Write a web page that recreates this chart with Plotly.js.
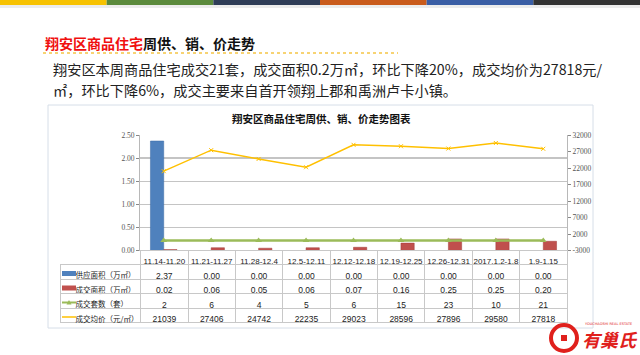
<!DOCTYPE html>
<html>
<head>
<meta charset="utf-8">
<script src="https://cdn.plot.ly/plotly-3.0.1.min.js"></script>
<style>
html,body{margin:0;padding:0;background:#fff;}
#chart{width:640px;height:355px;}
</style>
</head>
<body>
<div id="chart"></div>
<script>
// ---- data ----
const categories = ['11.14-11.20','11.21-11.27','11.28-12.4','12.5-12.11','12.12-12.18','12.19-12.25','12.26-12.31','2017.1.2-1.8','1.9-1.15'];
const supplyArea = [2.37, 0.00, 0.00, 0.00, 0.00, 0.00, 0.00, 0.00, 0.00];
const dealArea   = [0.02, 0.06, 0.05, 0.06, 0.07, 0.16, 0.25, 0.25, 0.20];
const dealCount  = [2, 6, 4, 5, 6, 15, 23, 10, 21];
const avgPrice   = [21039, 27406, 24742, 22235, 29023, 28596, 27896, 29580, 27818];
const seriesNames = ['供应面积（万㎡）','成交面积（万㎡）','成交套数（套）','成交均价（元/㎡）'];
const leftTicks = [0, 0.5, 1, 1.5, 2, 2.5];
const rightTicks = [-3000, 2000, 7000, 12000, 17000, 22000, 27000, 32000];

const W = 640, H = 355;
const px = x => x / W;
const py = y => 1 - y / H;

const cBlue = '#4f81bd', cRed = '#c0504d', cGreen = '#9bbb59', cYellow = '#ffc000';
const numFont = 'Liberation Sans, Arial, sans-serif';
const cjkFont = 'Noto Sans CJK SC, sans-serif';

const traces = [
  {type:'bar', x:categories, y:supplyArea, name:seriesNames[0], marker:{color:cBlue, line:{color:'#3a6aa5', width:0.5}}, xaxis:'x', yaxis:'y'},
  {type:'bar', x:categories, y:dealArea, name:seriesNames[1], marker:{color:cRed, line:{color:'#a03c3a', width:0.5}}, xaxis:'x', yaxis:'y'},
  {type:'scatter', mode:'lines+markers', x:categories, y:dealCount, name:seriesNames[2], line:{color:cGreen, width:2.5}, marker:{symbol:'triangle-up', size:6, color:cGreen}, xaxis:'x', yaxis:'y2'},
  {type:'scatter', mode:'lines+markers', x:categories, y:avgPrice, name:seriesNames[3], line:{color:cYellow, width:1.5}, marker:{symbol:'x-thin', size:4, color:cYellow, line:{color:cYellow, width:1}}, xaxis:'x', yaxis:'y2'},
  {
    type:'table',
    domain:{x:[px(60), px(567)], y:[py(328), py(250)]},
    columnwidth:[80].concat(categories.map(()=>47)),
    header:{
      values:[''].concat(categories),
      height:14.5,
      align:'center',
      fill:{color:'rgba(0,0,0,0)'},
      line:{color:['rgba(0,0,0,0)'].concat(categories.map(()=>'#c8c8c8')), width:1},
      font:{family:numFont, size:8, color:'#222'}
    },
    cells:{
      values:[seriesNames.map(s=>'\u2003'+s)].concat(categories.map((c,i)=>[supplyArea[i].toFixed(2), dealArea[i].toFixed(2), String(dealCount[i]), String(avgPrice[i])])),
      height:14.5,
      align:['left'].concat(categories.map(()=>'center')),
      fill:{color:'rgba(0,0,0,0)'},
      line:{color:'#c8c8c8', width:1},
      font:{family:[cjkFont].concat(categories.map(()=>numFont)), size:[7.5].concat(categories.map(()=>8.5)), color:'#222'}
    }
  }
];

const stripeColors = ['#f7c200','#5b8a3c','#2f3d57','#c95b1b','#3a5ea5','#333333'];
const shapes = [];
// outer white box
shapes.push({type:'rect', xref:'paper', yref:'paper', x0:px(48), x1:px(593), y0:py(328), y1:py(105), line:{color:'#d6dee8', width:1}, fillcolor:'#ffffff', layer:'below'});
// top stripe
stripeColors.forEach((c,i)=>{
  shapes.push({type:'rect', xref:'paper', yref:'paper', x0:i/6, x1:(i+1)/6, y0:py(5), y1:1, line:{width:0}, fillcolor:c, layer:'below'});
});
shapes.push({type:'rect', xref:'paper', yref:'paper', x0:0, x1:1, y0:py(8), y1:py(5), line:{width:0}, fillcolor:'#ececec', layer:'below'});
// dotted underline of title
shapes.push({type:'line', xref:'paper', yref:'paper', x0:px(43), x1:px(398), y0:py(53), y1:py(53), line:{color:'#f5c545', width:1.5, dash:'dot'}});
// legend keys in the table label column
const rowY = [273.5, 288, 302.5, 317];
shapes.push({type:'rect', xref:'paper', yref:'paper', x0:px(62), x1:px(76), y0:py(rowY[0]+2.5), y1:py(rowY[0]-2.5), line:{width:0}, fillcolor:cBlue});
shapes.push({type:'rect', xref:'paper', yref:'paper', x0:px(62), x1:px(76), y0:py(rowY[1]+2.5), y1:py(rowY[1]-2.5), line:{width:0}, fillcolor:cRed});
shapes.push({type:'line', xref:'paper', yref:'paper', x0:px(62), x1:px(76), y0:py(rowY[2]), y1:py(rowY[2]), line:{color:cGreen, width:2}});
shapes.push({type:'path', xref:'paper', yref:'paper', path:`M ${px(66.5)} ${py(rowY[2]+2)} L ${px(71.5)} ${py(rowY[2]+2)} L ${px(69)} ${py(rowY[2]-2.5)} Z`, fillcolor:cGreen, line:{width:0}});
shapes.push({type:'line', xref:'paper', yref:'paper', x0:px(62), x1:px(76), y0:py(rowY[3]), y1:py(rowY[3]), line:{color:cYellow, width:1.5}});
// logo circle
shapes.push({type:'circle', xref:'paper', yref:'paper', x0:px(551), x1:px(577), y0:py(351), y1:py(325), line:{color:'#e0201c', width:4}, fillcolor:'rgba(0,0,0,0)'});
shapes.push({type:'rect', xref:'paper', yref:'paper', x0:px(561), x1:px(567), y0:py(341), y1:py(335), line:{width:0}, fillcolor:'#e0201c'});

const annotations = [
  {xref:'paper', yref:'paper', x:px(43), y:py(43), xanchor:'left', yanchor:'middle', showarrow:false,
   text:'<b><span style="color:#f01010">翔安区商品住宅</span>周供、销、价走势</b>',
   font:{family:cjkFont, size:14, color:'#111'}},
  {xref:'paper', yref:'paper', x:px(51), y:py(69), xanchor:'left', yanchor:'middle', showarrow:false,
   text:'翔安区本周商品住宅成交21套，成交面积0.2万㎡，环比下降20%，成交均价为27818元/',
   font:{family:cjkFont, size:14.2, color:'#222'}},
  {xref:'paper', yref:'paper', x:px(51), y:py(90), xanchor:'left', yanchor:'middle', showarrow:false,
   text:'㎡，环比下降6%，成交主要来自首开领翔上郡和禹洲卢卡小镇。',
   font:{family:cjkFont, size:14.2, color:'#222'}},
  {xref:'paper', yref:'paper', x:px(321), y:py(118), xanchor:'center', yanchor:'middle', showarrow:false,
   text:'<b>翔安区商品住宅周供、销、价走势图表</b>',
   font:{family:cjkFont, size:10.5, color:'#111'}},
  {xref:'paper', yref:'paper', x:px(580), y:py(339), xanchor:'left', yanchor:'middle', showarrow:false,
   text:'<b><i>有巢氏</i></b>',
   font:{family:cjkFont, size:18, color:'#e0201c'}},
  {xref:'paper', yref:'paper', x:px(583), y:py(324), xanchor:'left', yanchor:'middle', showarrow:false,
   text:'YOUCHAOSHI REAL ESTATE',
   font:{family:'DejaVu Sans, sans-serif', size:3.5, color:'#e0201c'}}
];

const layout = {
  width:W, height:H,
  margin:{l:0, r:0, t:0, b:0},
  paper_bgcolor:'#ffffff',
  plot_bgcolor:'rgba(0,0,0,0)',
  showlegend:false,
  barmode:'group',
  bargap:0.44,
  bargroupgap:0,
  xaxis:{domain:[px(140), px(567)], type:'category', range:[-0.5, 8.5], showticklabels:false, ticks:'', showgrid:false, zeroline:false, showline:false, fixedrange:true},
  yaxis:{domain:[py(250.5), py(135)], range:[0, 2.5], tickvals:leftTicks, ticktext:leftTicks.map(v=>v.toFixed(2)),
         showgrid:true, gridcolor:'#c4c4c4', gridwidth:1.3, zeroline:false, showline:true, linecolor:'#b8b8b8', linewidth:1,
         ticks:'outside', ticklen:3, tickcolor:'#888', tickfont:{family:'Liberation Serif, serif', size:7.5, color:'#555'}},
  yaxis2:{domain:[py(250.5), py(135)], overlaying:'y', side:'right', range:[-3000, 32000], tickvals:rightTicks, ticktext:rightTicks.map(v=>String(v)),
          showgrid:false, zeroline:false, showline:true, linecolor:'#b8b8b8', linewidth:1,
          ticks:'outside', ticklen:3, tickcolor:'#888', tickfont:{family:'Liberation Serif, serif', size:7.5, color:'#555'}},
  shapes:shapes,
  annotations:annotations
};

Plotly.newPlot('chart', traces, layout, {staticPlot:true, displayModeBar:false});
</script>
</body>
</html>
